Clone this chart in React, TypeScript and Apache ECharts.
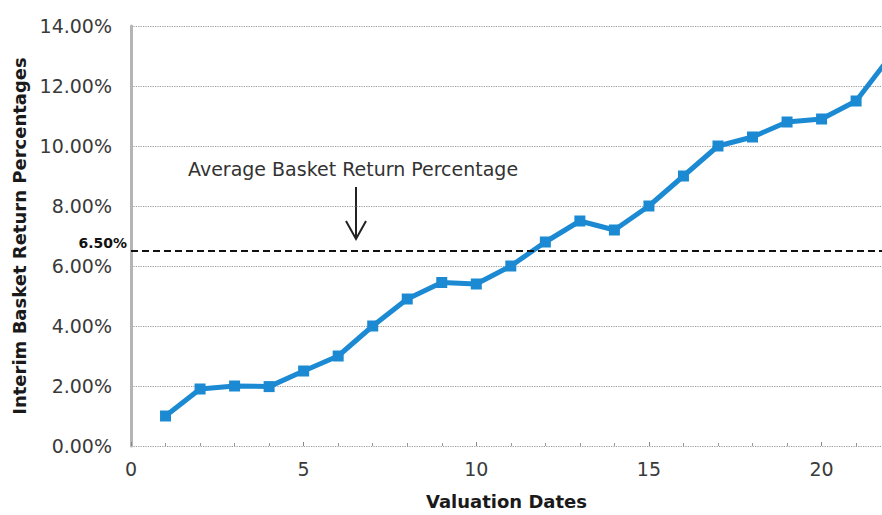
import React, { useEffect, useRef } from "react";
import * as echarts from "echarts";

const valuationDates = [1, 2, 3, 4, 5, 6, 7, 8, 9, 10, 11, 12, 13, 14, 15, 16, 17, 18, 19, 20, 21, 22];
const basketReturns = [1.0, 1.9, 2.0, 1.98, 2.5, 3.0, 4.0, 4.9, 5.45, 5.4, 6.0, 6.8, 7.5, 7.2, 8.0, 9.0, 10.0, 10.3, 10.8, 10.9, 11.5, 13.0];
const averageReturn = 6.5;
const yTicks = [0, 2, 4, 6, 8, 10, 12, 14];
const xTicks = [0, 5, 10, 15, 20];

const FONT = "DejaVu Sans";

export default function App() {
  const ref = useRef<HTMLDivElement>(null);
  useEffect(() => {
    if (!ref.current) return;
    const chart = echarts.init(ref.current, null, { renderer: "svg" });
    const lineData = valuationDates.map((d, i) => [d, basketReturns[i]]);
    chart.setOption({
      animation: false,
      backgroundColor: "#ffffff",
      grid: { left: 131, right: 0, top: 26, bottom: 67 },
      xAxis: {
        type: "value",
        min: xTicks[0],
        max: 21.75,
        interval: 5,
        name: "Valuation Dates",
        nameLocation: "middle",
        nameGap: 46,
        nameTextStyle: { fontFamily: FONT, fontWeight: "bold", fontSize: 18, color: "#1a1a1a" },
        axisLine: { show: false },
        axisTick: { show: true, inside: true, length: 4, lineStyle: { color: "#888" } },
        minorTick: { show: true, splitNumber: 5, length: 3, lineStyle: { color: "#999" } },
        splitLine: { show: false },
        axisLabel: {
          fontFamily: FONT,
          fontSize: 19,
          color: "#3a3a3a",
          margin: 13,
          showMaxLabel: false,
        },
      },
      yAxis: {
        type: "value",
        min: yTicks[0],
        max: yTicks[yTicks.length - 1],
        interval: 2,
        name: "Interim Basket Return Percentages",
        nameLocation: "middle",
        nameGap: 100,
        nameTextStyle: { fontFamily: FONT, fontWeight: "bold", fontSize: 18, color: "#1a1a1a" },
        axisLine: { show: true, lineStyle: { color: "#b5b5b5", width: 3 } },
        axisTick: { show: false },
        splitLine: { show: true, lineStyle: { color: "#9a9a9a", type: "dotted", width: 1.2 } },
        axisLabel: {
          fontFamily: FONT,
          fontSize: 19,
          color: "#3a3a3a",
          margin: 19,
          formatter: (v: number) => v.toFixed(2) + "%",
        },
      },
      series: [
        {
          type: "line",
          data: lineData,
          clip: true,
          symbol: "rect",
          symbolSize: 11,
          showSymbol: true,
          lineStyle: { color: "#1b8ad3", width: 5 },
          itemStyle: { color: "#1b8ad3" },
          markLine: {
            silent: true,
            symbol: ["none", "none"],
            label: { show: false },
            lineStyle: { color: "#111", type: [7, 4], width: 2 },
            data: [{ yAxis: averageReturn }],
          },
          z: 3,
        },
      ],
      graphic: [
        {
          type: "text",
          left: 188,
          top: 159,
          style: {
            text: "Average Basket Return Percentage",
            fontFamily: FONT,
            fontSize: 19,
            fill: "#333333",
          },
        },
        {
          type: "line",
          shape: { x1: 356, y1: 187, x2: 356, y2: 238 },
          style: { stroke: "#222", lineWidth: 2 },
        },
        {
          type: "polyline",
          shape: { points: [[346, 221], [356, 239], [366, 221]] },
          style: { stroke: "#222", lineWidth: 2, fill: "none" },
        },
        {
          type: "text",
          right: 882 - 127,
          top: 236,
          style: {
            text: "6.50%",
            fontFamily: FONT,
            fontSize: 14,
            fontWeight: "bold",
            fill: "#111",
          },
        },
      ],
    });
    return () => chart.dispose();
  }, []);
  return <div ref={ref} style={{ position: "fixed", left: 0, top: 0, width: 882, height: 515 }} />;
}
